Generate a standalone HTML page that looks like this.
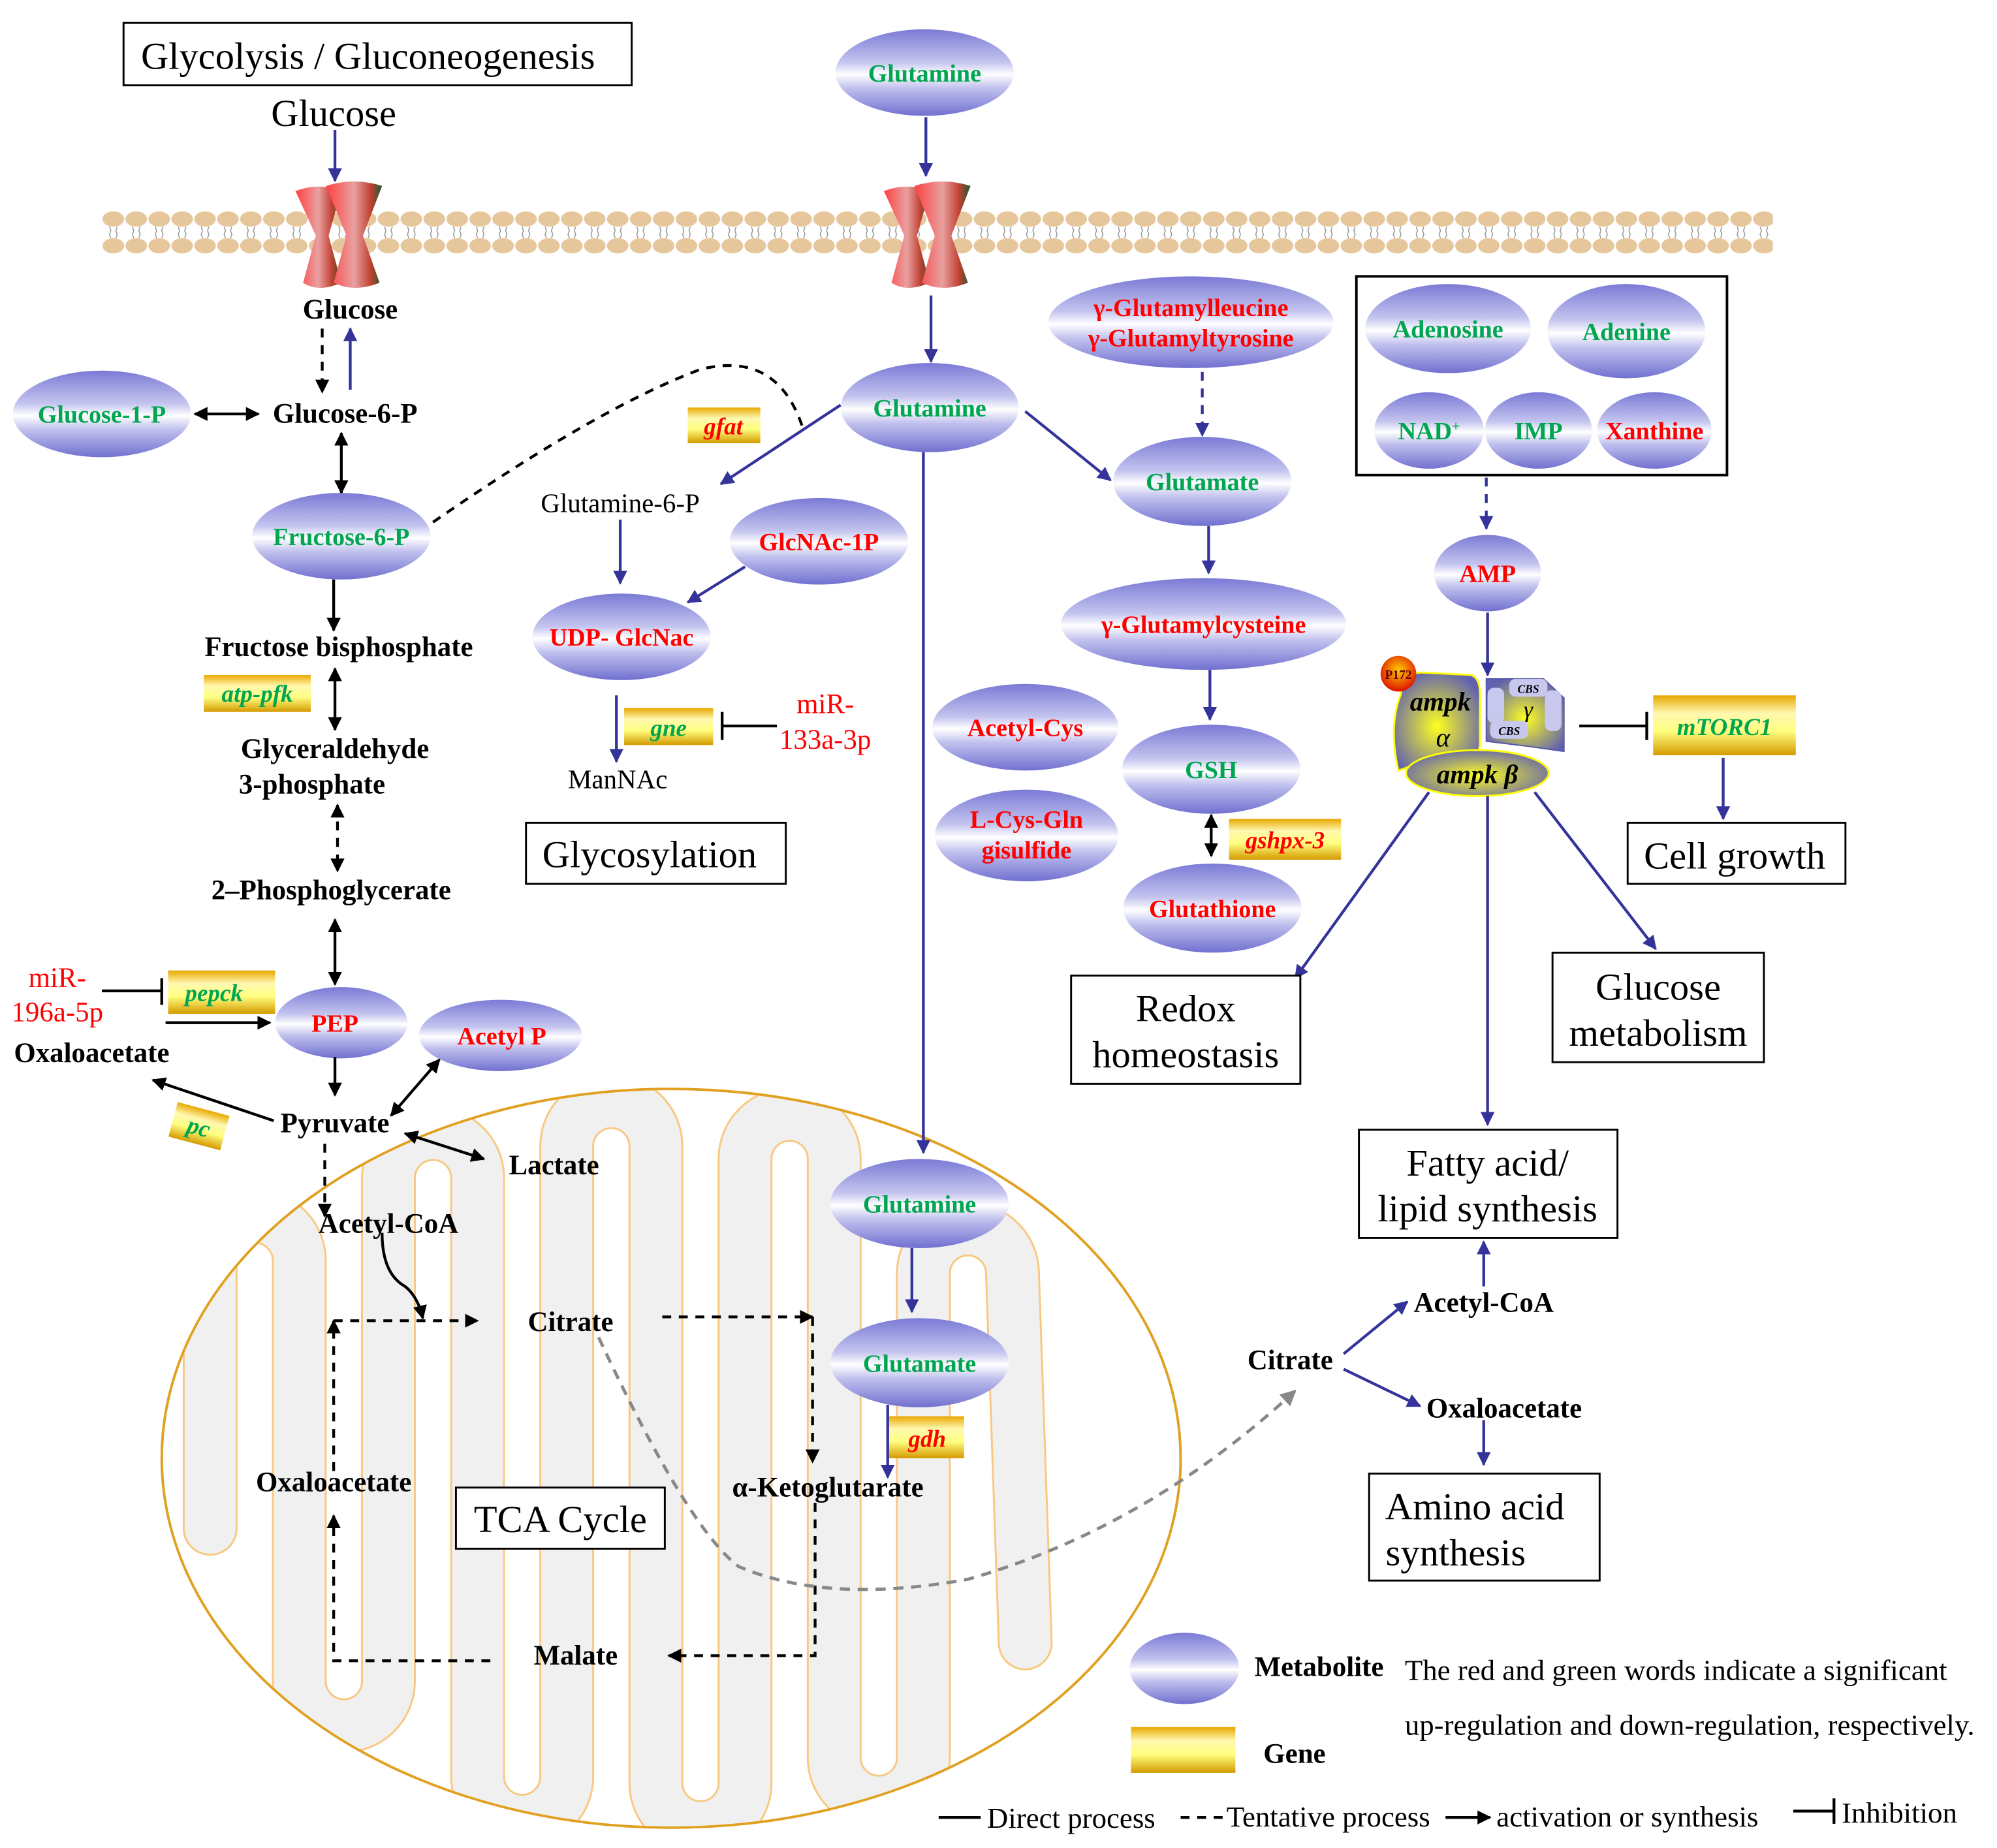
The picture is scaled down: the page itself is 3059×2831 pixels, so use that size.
<!DOCTYPE html>
<html><head><meta charset="utf-8"><style>
html,body{margin:0;padding:0;background:#fff;}
svg{display:block;}
text{font-family:"Liberation Serif",serif;}
.m{font-weight:bold;font-size:19.5px;text-anchor:middle;}
.g{fill:#00a650;}
.r{fill:#ff0000;}
.b{font-weight:bold;font-size:22px;text-anchor:middle;fill:#000;}
.t{font-size:30px;text-anchor:middle;fill:#000;}
.gn{font-weight:bold;font-style:italic;font-size:19px;text-anchor:middle;}
.bl{stroke:#33339a;stroke-width:2.2;fill:none;}
.k{stroke:#000;stroke-width:2.2;fill:none;}
.d{stroke-dasharray:7,6;}
.box{fill:#fff;stroke:#000;stroke-width:1.5;}
.lg{font-size:23px;}
</style></head><body>
<svg width="3059" height="2831" viewBox="0 0 1568 1451" preserveAspectRatio="none" xmlns="http://www.w3.org/2000/svg">
<defs>
<linearGradient id="eg" x1="0" y1="0" x2="0" y2="1">
<stop offset="0" stop-color="#7a7ad6"/><stop offset="0.38" stop-color="#c4c4ef"/><stop offset="0.52" stop-color="#ffffff"/><stop offset="0.68" stop-color="#c0c0ee"/><stop offset="1" stop-color="#7070d0"/>
</linearGradient>
<linearGradient id="gg" x1="0" y1="0" x2="0" y2="1">
<stop offset="0" stop-color="#e8a800"/><stop offset="0.3" stop-color="#fff8b0"/><stop offset="0.6" stop-color="#ffff80"/><stop offset="1" stop-color="#d49a00"/>
</linearGradient>
<linearGradient id="ch" x1="0" y1="0" x2="1" y2="0">
<stop offset="0" stop-color="#ff4040"/><stop offset="0.5" stop-color="#e8a0a0"/><stop offset="0.8" stop-color="#c04030"/><stop offset="1" stop-color="#1a5a30"/>
</linearGradient>
<radialGradient id="ay" cx="0.5" cy="0.55" r="0.6">
<stop offset="0" stop-color="#ffff20"/><stop offset="1" stop-color="#6060b0"/>
</radialGradient>
<radialGradient id="pr" cx="0.5" cy="0.4" r="0.6">
<stop offset="0" stop-color="#ffcc00"/><stop offset="1" stop-color="#dd1100"/>
</radialGradient>
<marker id="ab" viewBox="0 0 10 10" refX="9" refY="5" markerWidth="5" markerHeight="5" orient="auto-start-reverse"><path d="M0,0L10,5L0,10z" fill="#33339a"/></marker>
<marker id="ak" viewBox="0 0 10 10" refX="9" refY="5" markerWidth="5" markerHeight="5" orient="auto-start-reverse"><path d="M0,0L10,5L0,10z" fill="#000"/></marker>
<marker id="ag" viewBox="0 0 10 10" refX="9" refY="5" markerWidth="5" markerHeight="5" orient="auto"><path d="M0,0L10,5L0,10z" fill="#888"/></marker>
<pattern id="mem" x="80" y="160" width="18" height="40" patternUnits="userSpaceOnUse">
<ellipse cx="9" cy="12" rx="8.5" ry="6" fill="#e6c79c"/>
<ellipse cx="9" cy="33" rx="8.5" ry="6" fill="#e6c79c"/>
<path d="M6,18 l1,3 -1,3 1,3M12,18 l-1,3 1,3 -1,3" stroke="#999" stroke-width="0.8" fill="none"/>
</pattern>
<clipPath id="mc"><ellipse cx="527" cy="1145" rx="399" ry="289"/></clipPath>
</defs>

<!-- mitochondrion -->
<ellipse cx="527" cy="1145" rx="400" ry="290" fill="#fff" stroke="#e0a020" stroke-width="2"/>
<g clip-path="url(#mc)">
<path id="cr" d="M165,1200 L165,990 A35,35 0 0 1 235,990 L235,1320 A35,35 0 0 0 305,1320 L305,925 A35,35 0 0 1 375,925 L375,1395 A35,35 0 0 0 445,1395 L445,900 A35,35 0 0 1 515,900 L515,1400 A35,35 0 0 0 585,1400 L585,910 A35,35 0 0 1 655,910 L655,1380 A35,35 0 0 0 725,1380 L725,1000 A35,35 0 0 1 795,1000 L805,1290" fill="none" stroke="#f8c880" stroke-width="43" stroke-linecap="round" stroke-linejoin="round"/>
<path d="M165,1200 L165,990 A35,35 0 0 1 235,990 L235,1320 A35,35 0 0 0 305,1320 L305,925 A35,35 0 0 1 375,925 L375,1395 A35,35 0 0 0 445,1395 L445,900 A35,35 0 0 1 515,900 L515,1400 A35,35 0 0 0 585,1400 L585,910 A35,35 0 0 1 655,910 L655,1380 A35,35 0 0 0 725,1380 L725,1000 A35,35 0 0 1 795,1000 L805,1290" fill="none" stroke="#f0f0f0" stroke-width="40" stroke-linecap="round" stroke-linejoin="round"/>
</g>

<!-- membrane -->
<rect x="80" y="160" width="1312" height="40" fill="url(#mem)"/>
<g>
<path d="M232,150 Q250,143 268,150 L258,185 L268,222 Q250,230 238,222 L248,185Z" fill="url(#ch)"/>
<path d="M256,146 Q278,139 300,146 L285,185 L298,222 Q278,230 262,222 L272,185Z" fill="url(#ch)"/>
<path d="M694,150 Q712,143 730,150 L720,185 L730,222 Q712,230 700,222 L710,185Z" fill="url(#ch)"/>
<path d="M718,146 Q740,139 762,146 L747,185 L760,222 Q740,230 724,222 L734,185Z" fill="url(#ch)"/>
</g>

<!-- top title -->
<rect class="box" x="97" y="18" width="399" height="49"/>
<text class="t" x="289" y="54">Glycolysis / Gluconeogenesis</text>
<text class="t" x="262" y="99">Glucose</text>
<line class="bl" x1="263" y1="102" x2="263" y2="142" marker-end="url(#ab)"/>

<ellipse cx="726" cy="57" rx="70" ry="34" fill="url(#eg)"/><text class="m g" x="726" y="64">Glutamine</text>
<line class="bl" x1="727" y1="92" x2="727" y2="138" marker-end="url(#ab)"/>

<text class="b" x="275" y="250">Glucose</text>
<line class="k d" x1="253" y1="258" x2="253" y2="308" marker-end="url(#ak)"/>
<line class="bl" x1="275" y1="306" x2="275" y2="258" marker-end="url(#ab)"/>
<ellipse cx="80" cy="325" rx="70" ry="34" fill="url(#eg)"/><text class="m g" x="80" y="332">Glucose-1-P</text>
<line class="k" x1="153" y1="325" x2="203" y2="325" marker-start="url(#ak)" marker-end="url(#ak)"/>
<text class="b" x="271" y="332">Glucose-6-P</text>
<line class="k" x1="268" y1="340" x2="268" y2="387" marker-start="url(#ak)" marker-end="url(#ak)"/>
<ellipse cx="268" cy="421" rx="70" ry="34" fill="url(#eg)"/><text class="m g" x="268" y="428">Fructose-6-P</text>
<path class="k d" d="M340,410 Q470,320 550,290 Q610,275 630,335"/>
<line class="k" x1="262" y1="455" x2="262" y2="495" marker-end="url(#ak)"/>
<text class="b" x="266" y="515">Fructose bisphosphate</text>
<rect x="160" y="530" width="84" height="29" fill="url(#gg)"/><text class="gn g" x="202" y="551">atp-pfk</text>
<line class="k" x1="263" y1="525" x2="263" y2="573" marker-start="url(#ak)" marker-end="url(#ak)"/>
<text class="b" x="263" y="595">Glyceraldehyde</text>
<text class="b" x="245" y="623">3-phosphate</text>
<line class="k d" x1="265" y1="632" x2="265" y2="684" marker-start="url(#ak)" marker-end="url(#ak)"/>
<text class="b" x="260" y="706">2–Phosphoglycerate</text>
<line class="k" x1="263" y1="722" x2="263" y2="773" marker-start="url(#ak)" marker-end="url(#ak)"/>
<ellipse cx="268" cy="803" rx="52" ry="28" fill="url(#eg)"/><text class="m r" x="263" y="810">PEP</text>
<text x="45" y="775" font-size="22" fill="#f00" text-anchor="middle">miR-</text>
<text x="45" y="802" font-size="22" fill="#f00" text-anchor="middle">196a-5p</text>
<line class="k" x1="80" y1="778" x2="127" y2="778"/><line class="k" x1="127" y1="768" x2="127" y2="789"/>
<rect x="132" y="762" width="84" height="34" fill="url(#gg)"/><text class="gn g" x="168" y="786">pepck</text>
<text class="b" x="72" y="834">Oxaloacetate</text>
<line class="k" x1="130" y1="803" x2="212" y2="803" marker-end="url(#ak)"/>
<ellipse cx="393" cy="813" rx="64" ry="28" fill="url(#eg)"/><text class="m r" x="394" y="820">Acetyl P</text>
<line class="k" x1="263" y1="830" x2="263" y2="860" marker-end="url(#ak)"/>
<text class="b" x="263" y="889">Pyruvate</text>
<line class="k" x1="215" y1="880" x2="120" y2="848" marker-end="url(#ak)"/>
<g transform="rotate(15 155 885)"><rect x="135" y="870" width="42" height="28" fill="url(#gg)"/><text class="gn g" x="156" y="891">pc</text></g>
<line class="k" x1="307" y1="876" x2="345" y2="832" marker-start="url(#ak)" marker-end="url(#ak)"/>
<line class="k" x1="318" y1="890" x2="380" y2="910" marker-start="url(#ak)" marker-end="url(#ak)"/>
<text class="b" x="435" y="922">Lactate</text>
<line class="k d" x1="255" y1="898" x2="255" y2="955" marker-end="url(#ak)"/>
<text class="b" x="305" y="968">Acetyl-CoA</text>
<path class="k" d="M300,968 Q300,1000 318,1010 Q328,1018 332,1035" marker-end="url(#ak)"/>

<!-- TCA -->
<line class="k d" x1="262" y1="1037" x2="375" y2="1037" marker-end="url(#ak)"/>
<text class="b" x="448" y="1045">Citrate</text>
<line class="k d" x1="520" y1="1034" x2="638" y2="1034" marker-end="url(#ak)"/>
<line class="k d" x1="638" y1="1034" x2="638" y2="1148" marker-end="url(#ak)"/>
<text class="b" x="650" y="1175">α-Ketoglutarate</text>
<polyline class="k d" points="640,1180 640,1300 525,1300" marker-end="url(#ak)"/>
<text class="b" x="452" y="1307">Malate</text>
<polyline class="k d" points="385,1304 262,1304 262,1190" marker-end="url(#ak)"/>
<text class="b" x="262" y="1171">Oxaloacetate</text>
<line class="k d" x1="262" y1="1155" x2="262" y2="1037" marker-end="url(#ak)"/>
<rect class="box" x="358" y="1168" width="164" height="48"/>
<text class="t" x="440" y="1203">TCA Cycle</text>
<path d="M470,1050 Q540,1200 580,1230 Q650,1260 760,1240 Q900,1200 1017,1092" fill="none" stroke="#888" stroke-width="2.5" stroke-dasharray="8,6" marker-end="url(#ag)"/>

<!-- glutamine branch -->
<line class="bl" x1="731" y1="232" x2="731" y2="284" marker-end="url(#ab)"/>
<ellipse cx="730" cy="320" rx="70" ry="35" fill="url(#eg)"/><text class="m g" x="730" y="327">Glutamine</text>
<line class="bl" x1="660" y1="318" x2="566" y2="380" marker-end="url(#ab)"/>
<rect x="540" y="320" width="57" height="28" fill="url(#gg)"/><text class="gn r" x="568" y="341">gfat</text>
<text x="487" y="402" font-size="21" text-anchor="middle">Glutamine-6-P</text>
<line class="bl" x1="487" y1="408" x2="487" y2="458" marker-end="url(#ab)"/>
<ellipse cx="643" cy="425" rx="70" ry="34" fill="url(#eg)"/><text class="m r" x="643" y="432">GlcNAc-1P</text>
<line class="bl" x1="585" y1="445" x2="540" y2="473" marker-end="url(#ab)"/>
<ellipse cx="488" cy="500" rx="70" ry="34" fill="url(#eg)"/><text class="m r" x="488" y="507">UDP- GlcNac</text>
<line class="bl" x1="484" y1="546" x2="484" y2="598" marker-end="url(#ab)"/>
<rect x="490" y="556" width="70" height="29" fill="url(#gg)"/><text class="gn g" x="525" y="578">gne</text>
<text x="648" y="560" font-size="22" fill="#f00" text-anchor="middle">miR-</text>
<text x="648" y="588" font-size="22" fill="#f00" text-anchor="middle">133a-3p</text>
<line class="k" x1="610" y1="570" x2="567" y2="570"/><line class="k" x1="567" y1="559" x2="567" y2="581"/>
<text x="485" y="619" font-size="21" text-anchor="middle">ManNAc</text>
<rect class="box" x="413" y="646" width="204" height="48"/>
<text class="t" x="510" y="681">Glycosylation</text>

<line class="bl" x1="725" y1="355" x2="725" y2="905" marker-end="url(#ab)"/>
<ellipse cx="722" cy="945" rx="70" ry="35" fill="url(#eg)"/><text class="m g" x="722" y="952">Glutamine</text>
<line class="bl" x1="716" y1="980" x2="716" y2="1030" marker-end="url(#ab)"/>
<ellipse cx="722" cy="1070" rx="70" ry="35" fill="url(#eg)"/><text class="m g" x="722" y="1077">Glutamate</text>
<rect x="698" y="1112" width="59" height="33" fill="url(#gg)"/><text class="gn r" x="728" y="1136">gdh</text>
<line class="bl" x1="697" y1="1103" x2="697" y2="1160" marker-end="url(#ab)"/>

<line class="bl" x1="805" y1="323" x2="872" y2="377" marker-end="url(#ab)"/>
<ellipse cx="935" cy="253" rx="112" ry="36" fill="url(#eg)"/>
<text class="m r" x="935" y="248">γ-Glutamylleucine</text>
<text class="m r" x="935" y="272">γ-Glutamyltyrosine</text>
<line class="bl d" x1="944" y1="292" x2="944" y2="342" marker-end="url(#ab)"/>
<ellipse cx="944" cy="378" rx="70" ry="35" fill="url(#eg)"/><text class="m g" x="944" y="385">Glutamate</text>
<line class="bl" x1="949" y1="413" x2="949" y2="450" marker-end="url(#ab)"/>
<ellipse cx="945" cy="490" rx="112" ry="36" fill="url(#eg)"/><text class="m r" x="945" y="497">γ-Glutamylcysteine</text>
<line class="bl" x1="950" y1="526" x2="950" y2="565" marker-end="url(#ab)"/>
<ellipse cx="951" cy="604" rx="70" ry="35" fill="url(#eg)"/><text class="m g" x="951" y="611">GSH</text>
<line class="k" x1="951" y1="640" x2="951" y2="672" marker-start="url(#ak)" marker-end="url(#ak)"/>
<rect x="965" y="643" width="88" height="32" fill="url(#gg)"/><text class="gn r" x="1009" y="666">gshpx-3</text>
<ellipse cx="952" cy="713" rx="70" ry="35" fill="url(#eg)"/><text class="m r" x="952" y="720">Glutathione</text>
<ellipse cx="805" cy="571" rx="73" ry="34" fill="url(#eg)"/><text class="m r" x="805" y="578">Acetyl-Cys</text>
<ellipse cx="806" cy="656" rx="72" ry="36" fill="url(#eg)"/>
<text class="m r" x="806" y="650">L-Cys-Gln</text><text class="m r" x="806" y="674">gisulfide</text>

<!-- AMP box -->
<rect x="1065" y="217" width="291" height="156" fill="#fff" stroke="#000" stroke-width="2"/>
<ellipse cx="1137" cy="258" rx="65" ry="35" fill="url(#eg)"/><text class="m g" x="1137" y="265">Adenosine</text>
<ellipse cx="1277" cy="260" rx="62" ry="37" fill="url(#eg)"/><text class="m g" x="1277" y="267">Adenine</text>
<ellipse cx="1122" cy="338" rx="43" ry="30" fill="url(#eg)"/><text class="m g" x="1122" y="345">NAD<tspan font-size="11" dy="-7">+</tspan></text>
<ellipse cx="1208" cy="338" rx="42" ry="30" fill="url(#eg)"/><text class="m g" x="1208" y="345">IMP</text>
<ellipse cx="1299" cy="338" rx="45" ry="30" fill="url(#eg)"/><text class="m r" x="1299" y="345">Xanthine</text>
<line class="bl d" x1="1167" y1="375" x2="1167" y2="415" marker-end="url(#ab)"/>
<ellipse cx="1168" cy="450" rx="42" ry="30" fill="url(#eg)"/><text class="m r" x="1168" y="457">AMP</text>
<line class="bl" x1="1168" y1="481" x2="1168" y2="530" marker-end="url(#ab)"/>

<!-- AMPK -->
<path d="M1100,545 Q1100,530 1115,528 L1155,530 Q1162,532 1162,545 L1162,585 Q1162,592 1150,594 L1112,600 L1098,605 Q1090,570 1100,545Z" fill="url(#ay)" stroke="#ffff00" stroke-width="1.5"/>
<path d="M1167,533 L1212,533 L1228,548 L1228,590 L1200,586 L1167,582Z" fill="url(#ay)" stroke="#5555aa" stroke-width="1"/>
<rect x="1185" y="533" width="30" height="14" rx="5" fill="#c8c8ee"/><text x="1200" y="544" font-size="9" font-style="italic" font-weight="bold" text-anchor="middle">CBS</text>
<rect x="1170" y="566" width="30" height="14" rx="5" fill="#c8c8ee"/><text x="1185" y="577" font-size="9" font-style="italic" font-weight="bold" text-anchor="middle">CBS</text>
<rect x="1168" y="540" width="13" height="28" rx="5" fill="#c8c8ee"/>
<rect x="1213" y="542" width="13" height="32" rx="5" fill="#c8c8ee"/>
<text x="1200" y="563" font-size="18" font-style="italic" text-anchor="middle">γ</text>
<ellipse cx="1160" cy="607" rx="56" ry="18" fill="url(#ay)" stroke="#ffff00" stroke-width="1.5"/>
<text x="1160" y="615" font-size="21" font-style="italic" font-weight="bold" text-anchor="middle">ampk β</text>
<text x="1131" y="558" font-size="21" font-style="italic" font-weight="bold" text-anchor="middle">ampk</text>
<text x="1133" y="586" font-size="21" font-style="italic" text-anchor="middle">α</text>
<circle cx="1098" cy="529" r="14" fill="url(#pr)"/><text x="1098" y="533" font-size="10" font-weight="bold" fill="#600" text-anchor="middle">P172</text>

<line class="k" x1="1240" y1="570" x2="1293" y2="570"/><line class="k" x1="1293" y1="559" x2="1293" y2="581"/>
<rect x="1298" y="546" width="112" height="47" fill="url(#gg)"/><text class="gn g" x="1354" y="577">mTORC1</text>
<line class="bl" x1="1353" y1="595" x2="1353" y2="643" marker-end="url(#ab)"/>
<rect class="box" x="1278" y="646" width="171" height="48"/><text class="t" x="1362" y="682">Cell growth</text>

<line class="bl" x1="1122" y1="622" x2="1017" y2="768" marker-end="url(#ab)"/>
<line class="bl" x1="1168" y1="625" x2="1168" y2="883" marker-end="url(#ab)"/>
<line class="bl" x1="1205" y1="622" x2="1300" y2="745" marker-end="url(#ab)"/>
<rect class="box" x="841" y="766" width="180" height="85"/>
<text class="t" x="931" y="802">Redox</text><text class="t" x="931" y="838">homeostasis</text>
<rect class="box" x="1219" y="748" width="166" height="86"/>
<text class="t" x="1302" y="785">Glucose</text><text class="t" x="1302" y="821">metabolism</text>
<rect class="box" x="1067" y="887" width="203" height="85"/>
<text class="t" x="1168" y="923">Fatty acid/</text><text class="t" x="1168" y="959">lipid synthesis</text>
<line class="bl" x1="1165" y1="1010" x2="1165" y2="975" marker-end="url(#ab)"/>
<text class="b" x="1013" y="1075">Citrate</text>
<line class="bl" x1="1055" y1="1063" x2="1105" y2="1022" marker-end="url(#ab)"/>
<line class="bl" x1="1055" y1="1075" x2="1115" y2="1104" marker-end="url(#ab)"/>
<text class="b" x="1165" y="1030">Acetyl-CoA</text>
<text class="b" x="1181" y="1113">Oxaloacetate</text>
<line class="bl" x1="1165" y1="1115" x2="1165" y2="1150" marker-end="url(#ab)"/>
<rect class="box" x="1075" y="1157" width="181" height="84"/>
<text class="t" x="1158" y="1193">Amino acid</text><text x="1088" y="1229" font-size="30">synthesis</text>

<!-- legend -->
<ellipse cx="930" cy="1310" rx="43" ry="28" fill="url(#eg)"/>
<text x="985" y="1316" font-size="22" font-weight="bold">Metabolite</text>
<rect x="888" y="1356" width="82" height="36" fill="url(#gg)"/>
<text x="992" y="1384" font-size="22" font-weight="bold">Gene</text>
<text class="lg" x="1103" y="1319">The red and green words indicate a significant</text>
<text class="lg" x="1103" y="1362">up-regulation and down-regulation, respectively.</text>
<line class="k" x1="737" y1="1427" x2="770" y2="1427"/>
<text class="lg" x="775" y="1435">Direct process</text>
<line class="k d" x1="927" y1="1427" x2="960" y2="1427"/>
<text class="lg" x="963" y="1434">Tentative process</text>
<line class="k" x1="1135" y1="1427" x2="1170" y2="1427" marker-end="url(#ak)"/>
<text class="lg" x="1175" y="1434">activation or synthesis</text>
<line class="k" x1="1408" y1="1422" x2="1440" y2="1422"/><line class="k" x1="1440" y1="1412" x2="1440" y2="1432"/>
<text class="lg" x="1446" y="1431">Inhibition</text>
</svg>
</body></html>
